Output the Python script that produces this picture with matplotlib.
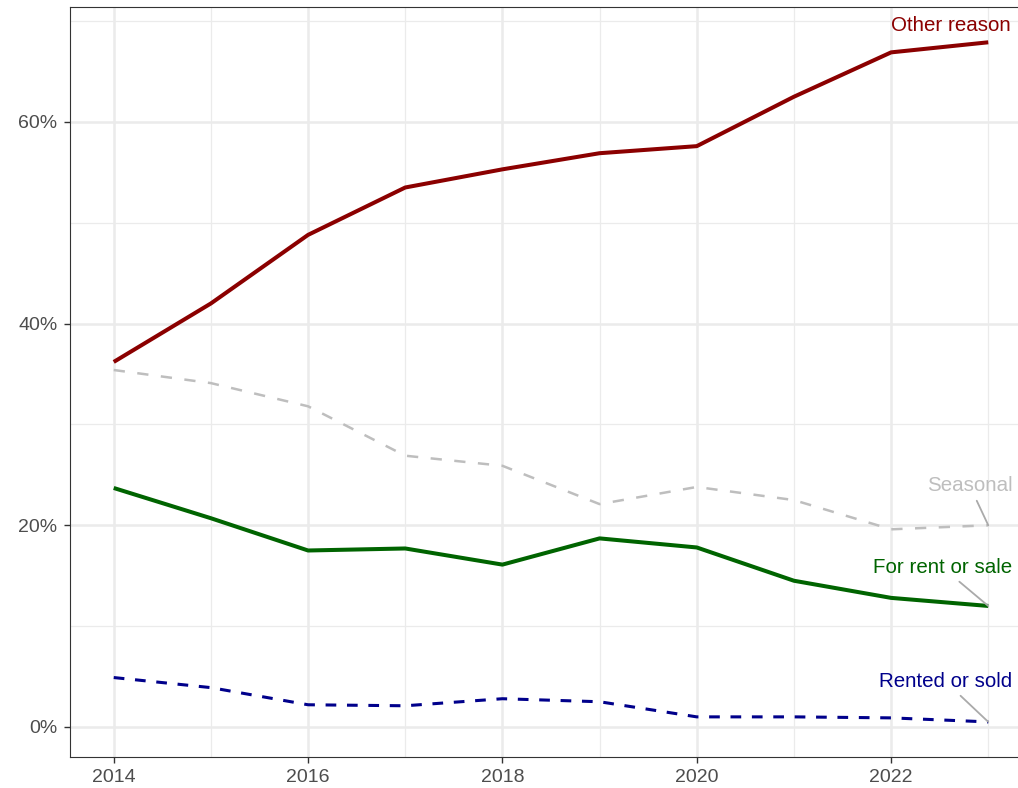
import matplotlib.pyplot as plt
from matplotlib.ticker import FuncFormatter, MultipleLocator

years = [2014, 2015, 2016, 2017, 2018, 2019, 2020, 2021, 2022, 2023]
other_reason = [36.2, 42.0, 48.8, 53.5, 55.3, 56.9, 57.6, 62.5, 66.9, 67.9]
seasonal = [35.4, 34.1, 31.8, 26.9, 25.9, 22.1, 23.8, 22.5, 19.6, 20.0]
for_rent_or_sale = [23.7, 20.7, 17.5, 17.7, 16.1, 18.7, 17.8, 14.5, 12.8, 12.0]
rented_or_sold = [4.9, 3.9, 2.2, 2.1, 2.8, 2.5, 1.0, 1.0, 0.9, 0.5]

# label name, text position (year, pct)
labels = {
    'Other reason': (2022.62, 69.6),
    'Seasonal': (2022.81, 23.9),
    'For rent or sale': (2022.53, 15.8),
    'Rented or sold': (2022.56, 4.5),
}

plt.rcParams['font.family'] = ['Liberation Sans', 'DejaVu Sans']

fig = plt.figure(figsize=(10.18, 7.88), dpi=100)
# right edge of the panel runs past the figure, like the cropped original
ax = fig.add_axes([70 / 1018, 31 / 788, (1032 - 70) / 1018, (757 - 7) / 788])

series = [
    ('Other reason', other_reason, '#8B0000', '-', 2.9),
    ('Seasonal', seasonal, '#BEBEBE', (0, (4.5, 5)), 1.8),
    ('For rent or sale', for_rent_or_sale, '#006400', '-', 2.9),
    ('Rented or sold', rented_or_sold, '#00008B', (0, (3.5, 3.5)), 2.2),
]

for name, vals, color, ls, lw in series:
    ax.plot(years, vals, color=color, linestyle=ls, linewidth=lw, zorder=3,
            solid_capstyle='butt')
    tx, ty = labels[name]
    if name == 'Other reason':
        ax.text(tx, ty, name, color=color, fontsize=14.8, ha='center', va='center', zorder=4)
    else:
        ax.annotate(name, xy=(years[-1], vals[-1]), xytext=(tx, ty),
                    color=color, fontsize=14.8, ha='center', va='center', zorder=4,
                    arrowprops=dict(arrowstyle='-', color='#AAAAAA', lw=1.3,
                                    shrinkA=2, shrinkB=0))

ax.set_xlim(2013.55, 2023.45)
ax.set_ylim(-2.98, 71.4)

ax.xaxis.set_major_locator(MultipleLocator(2))
ax.xaxis.set_minor_locator(MultipleLocator(1))
ax.yaxis.set_major_locator(MultipleLocator(20))
ax.yaxis.set_minor_locator(MultipleLocator(10))
ax.yaxis.set_major_formatter(FuncFormatter(lambda v, p: f'{v:.0f}%'))

ax.grid(which='major', color='#EBEBEB', linewidth=1.8, zorder=0)
ax.grid(which='minor', color='#EBEBEB', linewidth=0.9, zorder=0)
ax.set_axisbelow(True)

ax.tick_params(which='major', length=4.5, width=1, color='#333333',
               labelcolor='#4D4D4D', labelsize=14, pad=4.5)
ax.tick_params(which='minor', length=0)

for s in ax.spines.values():
    s.set_color('#333333')
    s.set_linewidth(0.8)

fig.savefig('out.png', dpi=100)
